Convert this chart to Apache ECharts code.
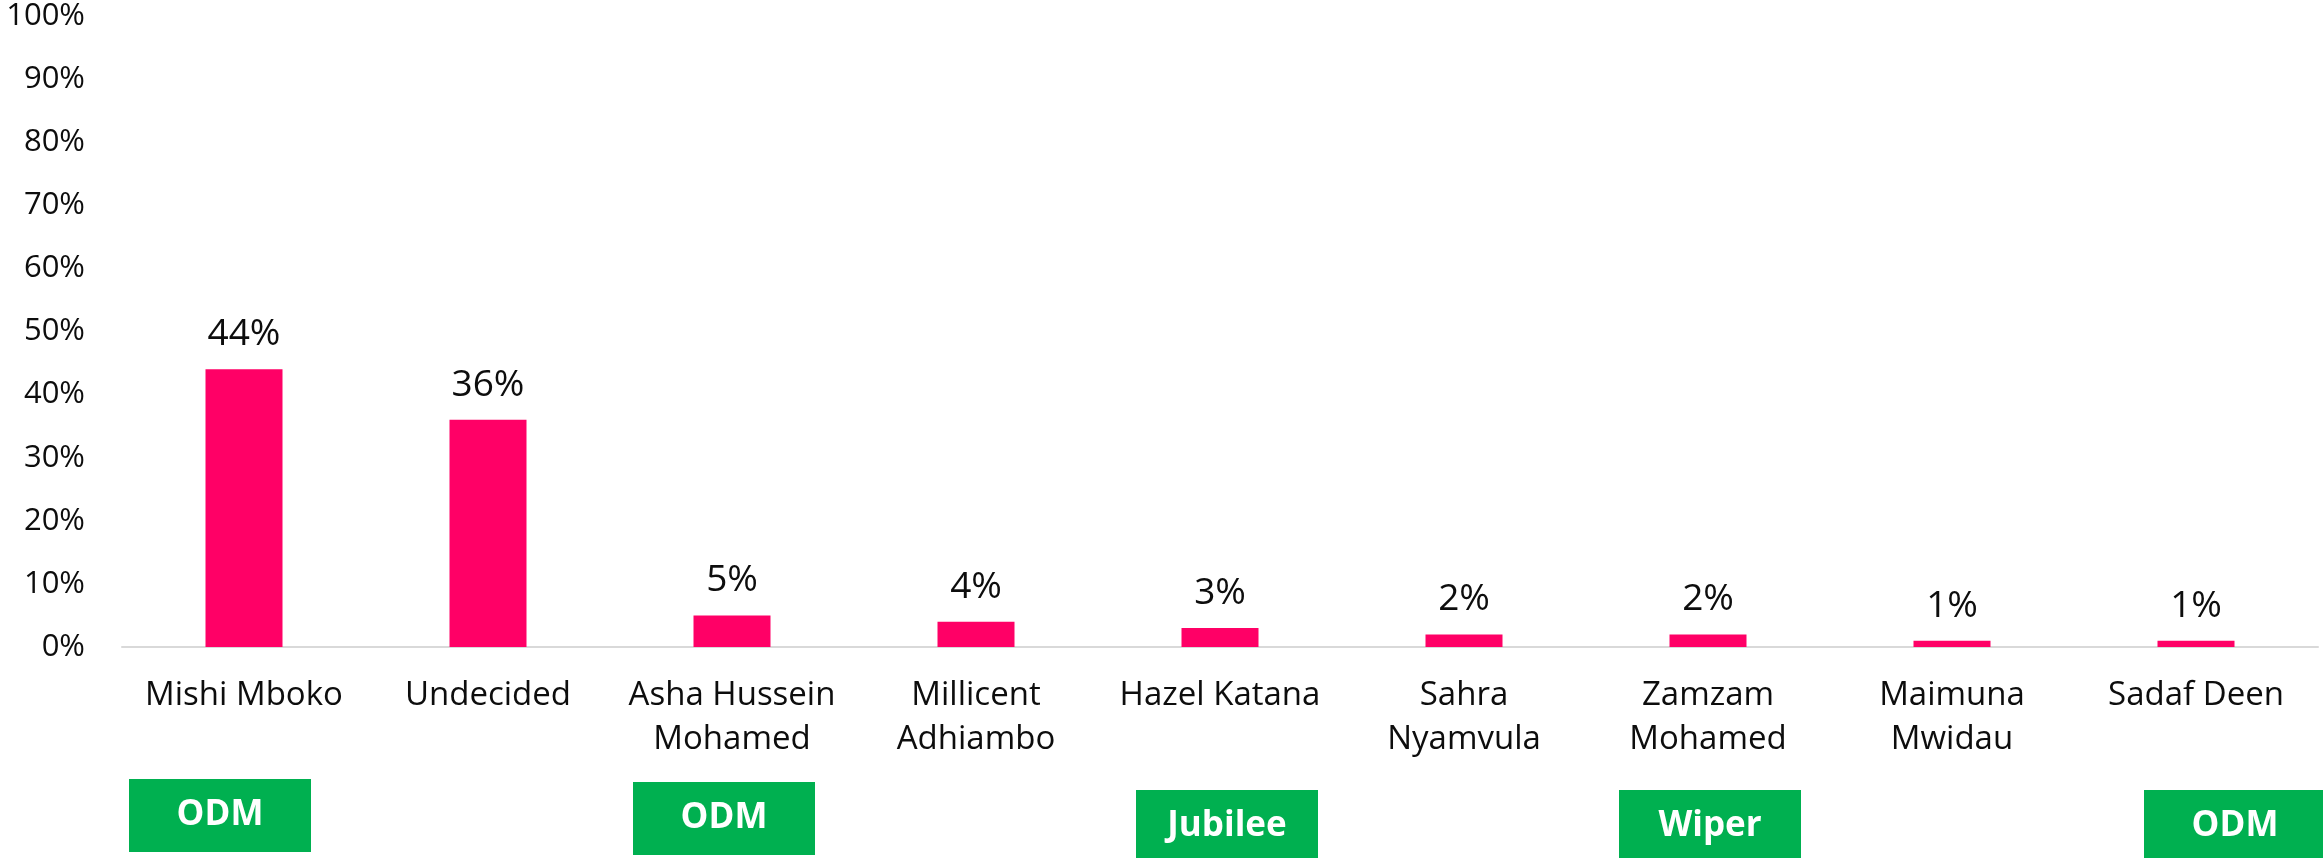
<!DOCTYPE html>
<html>
<head>
<meta charset="utf-8">
<script src="https://cdn.jsdelivr.net/npm/echarts@6/dist/echarts.min.js"></script>
<style>
html,body{margin:0;padding:0;background:#fff;}
#chart{width:2323px;height:858px;}
</style>
</head>
<body>
<div id="chart"></div>
<script>
const categories = ['Mishi Mboko','Undecided','Asha Hussein\nMohamed','Millicent\nAdhiambo','Hazel Katana','Sahra\nNyamvula','Zamzam\nMohamed','Maimuna\nMwidau','Sadaf Deen'];
const values = [44, 36, 5, 4, 3, 2, 2, 1, 1];
const yTicks = [0,10,20,30,40,50,60,70,80,90,100];
const parties = ['ODM','','ODM','','Jubilee','','Wiper','','ODM'];

const FONT = '"Open Sans", sans-serif';
// Party box layout (annotation positions)
const boxLayout = [
  {left:129, top:779}, null, {left:633, top:782}, null,
  {left:1136, top:790}, null, {left:1619, top:790}, null, {left:2144, top:790}
];
const BOX_W = 182, BOX_H = 73;

const graphics = [];
parties.forEach((p, i) => {
  if (!p || !boxLayout[i]) return;
  const b = boxLayout[i];
  graphics.push({
    type: 'group', left: b.left, top: b.top,
    children: [
      {type:'rect', shape:{x:0,y:0,width:BOX_W,height:BOX_H}, style:{fill:'#00B050'}},
      {type:'text', x:BOX_W/2, y:BOX_H/2, style:{text:p, fill:'#fff', font:'bold 35px ' + FONT, textAlign:'center', textVerticalAlign:'middle'}}
    ]
  });
});

const chart = echarts.init(document.getElementById('chart'));
chart.setOption({
  animation: false,
  backgroundColor: '#fff',
  grid: {left:122, right:5, top:16, bottom:211, containLabel:false},
  xAxis: {
    type:'category', data: categories,
    axisLine:{lineStyle:{color:'#D9D9D9', width:2}},
    axisTick:{show:false},
    axisLabel:{color:'#0d0d0d', fontSize:33, fontFamily:FONT, lineHeight:44, margin:27, interval:0}
  },
  yAxis: {
    type:'value', min:0, max:100, interval:10,
    splitLine:{show:false},
    axisLine:{show:false}, axisTick:{show:false},
    axisLabel:{color:'#0d0d0d', fontSize:31, fontFamily:FONT, margin:37,
      formatter: v => yTicks.includes(v) ? v + '%' : ''}
  },
  series: [{
    type:'bar', data: values, barWidth:77,
    itemStyle:{color:'#FF0066'},
    label:{show:true, position:'top', distance:16, color:'#0d0d0d', fontSize:37, fontFamily:FONT, formatter: p => p.value + '%'}
  }],
  graphic: graphics
});
</script>
</body>
</html>
